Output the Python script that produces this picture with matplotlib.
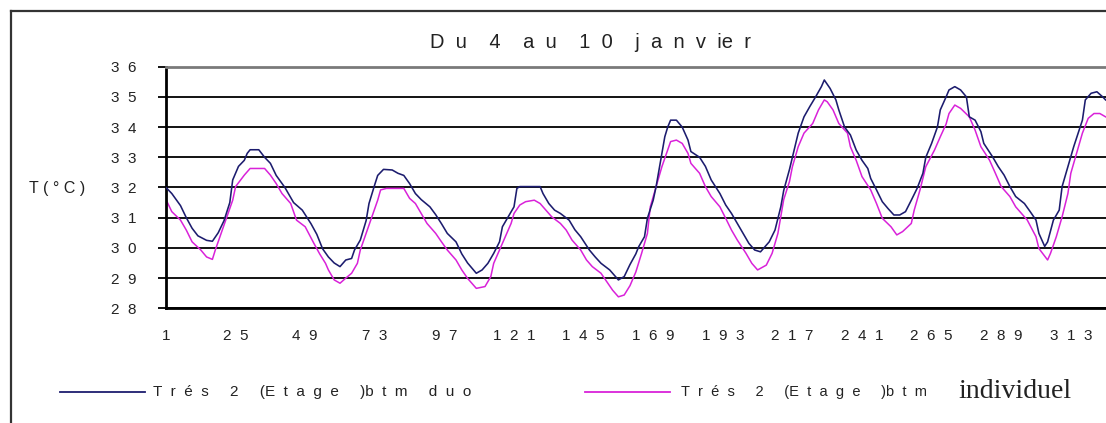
import matplotlib
matplotlib.use("Agg")
import matplotlib.pyplot as plt
from matplotlib.lines import Line2D

# Relevés toutes les demi-heures, du 4 au 10 janvier
duo_x = [1, 3, 6, 8, 10, 12, 15, 17, 19, 21, 23, 24, 26, 28, 29, 30, 33, 35, 37, 39,
         42, 45, 48, 51, 53, 55, 57, 59, 61, 63, 65, 66, 68, 70, 71, 73, 74, 76, 79, 81,
         83, 85, 87, 89, 92, 94, 96, 98, 101, 103, 105, 108, 110, 112, 114, 116, 117, 119, 121, 122,
         123, 130, 131, 133, 135, 137, 140, 142, 144, 147, 149, 151, 154, 156, 157, 159, 161, 163, 164, 166,
         167, 169, 170, 171, 172, 173, 174, 175, 177, 179, 181, 182, 185, 187, 189, 192, 194, 196, 198, 200,
         202, 204, 206, 209, 211, 213, 214, 216, 217, 219, 221, 223, 225, 227, 228, 230, 232, 233, 235, 237,
         239, 241, 243, 244, 246, 248, 250, 252, 254, 256, 258, 260, 262, 263, 265, 267, 268, 270, 271, 273,
         275, 277, 278, 280, 282, 283, 286, 288, 290, 292, 294, 297, 299, 301, 302, 304, 305, 307, 309, 310,
         312, 314, 317, 318, 320, 322, 324, 325]
duo_t = [32.0, 31.8, 31.4, 31.0, 30.65, 30.4, 30.25, 30.22, 30.5, 30.9, 31.5, 32.25, 32.7, 32.9, 33.13, 33.25, 33.25, 33.0, 32.8, 32.4,
         32.0, 31.5, 31.25, 30.8, 30.45, 29.97, 29.7, 29.5, 29.38, 29.6, 29.65, 29.93, 30.26, 30.9, 31.47, 32.1, 32.4, 32.6, 32.58, 32.47,
         32.4, 32.13, 31.8, 31.6, 31.36, 31.1, 30.8, 30.48, 30.2, 29.8, 29.5, 29.16, 29.27, 29.49, 29.82, 30.2, 30.7, 31.03, 31.36, 31.97,
         32.03, 32.03, 31.8, 31.47, 31.25, 31.14, 30.92, 30.6, 30.37, 29.93, 29.7, 29.49, 29.27, 29.05, 28.94, 29.05, 29.45, 29.8, 30.04, 30.37,
         30.98, 31.58, 32.03, 32.58, 33.13, 33.68, 34.0, 34.23, 34.23, 34.0, 33.57, 33.19, 33.0, 32.7, 32.25, 31.8, 31.42, 31.14, 30.81, 30.48,
         30.15, 29.93, 29.87, 30.2, 30.59, 31.36, 31.9, 32.6, 33.0, 33.8, 34.34, 34.68, 35.0, 35.34, 35.56, 35.28, 34.9, 34.57, 34.0, 33.74,
         33.24, 32.9, 32.63, 32.3, 31.92, 31.53, 31.3, 31.09, 31.09, 31.2, 31.58, 31.97, 32.47, 33.0, 33.46, 34.0, 34.57, 35.0, 35.23, 35.34,
         35.23, 35.0, 34.34, 34.23, 33.85, 33.46, 33.02, 32.69, 32.41, 32.03, 31.7, 31.47, 31.2, 30.92, 30.48, 30.05, 30.2, 30.92, 31.25, 32.03,
         32.69, 33.35, 34.23, 34.9, 35.12, 35.17, 35.0, 34.9]

indiv_x = [1, 3, 6, 8, 10, 13, 15, 17, 18, 20, 22, 24, 25, 28, 30, 35, 37, 39, 41, 44,
           46, 49, 52, 54, 56, 57, 59, 61, 63, 65, 67, 68, 70, 72, 74, 75, 77, 83, 85, 87,
           89, 91, 94, 96, 98, 101, 103, 105, 108, 111, 113, 114, 116, 118, 120, 121, 123, 125, 128, 130,
           132, 134, 137, 139, 141, 144, 146, 148, 151, 153, 155, 157, 159, 161, 163, 165, 167, 168, 170, 172,
           174, 175, 177, 179, 181, 182, 185, 187, 189, 192, 194, 196, 198, 201, 203, 205, 208, 210, 212, 214,
           216, 217, 219, 221, 224, 226, 228, 229, 231, 233, 236, 237, 239, 241, 244, 246, 248, 251, 253, 255,
           258, 259, 261, 263, 266, 268, 270, 271, 273, 275, 278, 280, 282, 285, 287, 289, 292, 294, 296, 298,
           301, 302, 305, 306, 308, 310, 312, 313, 315, 317, 319, 321, 323, 325]
indiv_t = [31.6, 31.2, 30.92, 30.59, 30.2, 29.93, 29.7, 29.62, 29.93, 30.48, 31.03, 31.58, 32.03, 32.41, 32.63, 32.63, 32.41, 32.13, 31.8, 31.47,
           30.92, 30.7, 30.15, 29.8, 29.49, 29.27, 28.94, 28.83, 29.0, 29.16, 29.49, 29.93, 30.48, 31.03, 31.58, 31.92, 31.97, 31.97, 31.64, 31.47,
           31.14, 30.81, 30.48, 30.2, 29.93, 29.6, 29.27, 28.99, 28.66, 28.72, 29.05, 29.49, 29.93, 30.37, 30.81, 31.14, 31.42, 31.53, 31.58, 31.47,
           31.25, 31.03, 30.81, 30.59, 30.26, 29.93, 29.6, 29.38, 29.16, 28.88, 28.6, 28.38, 28.44, 28.75, 29.2, 29.82, 30.48, 31.36, 32.03, 32.69,
           33.24, 33.52, 33.57, 33.46, 33.13, 32.8, 32.47, 32.03, 31.7, 31.36, 30.98, 30.59, 30.26, 29.82, 29.49, 29.27, 29.43, 29.82, 30.48, 31.6,
           32.2, 32.69, 33.35, 33.8, 34.12, 34.57, 34.9, 34.84, 34.57, 34.12, 33.8, 33.35, 32.9, 32.36, 31.92, 31.47, 30.98, 30.7, 30.43, 30.54,
           30.81, 31.25, 31.92, 32.69, 33.24, 33.68, 34.1, 34.45, 34.73, 34.62, 34.34, 33.9, 33.35, 32.9, 32.47, 32.03, 31.7, 31.36, 31.14, 30.92,
           30.37, 29.98, 29.6, 29.82, 30.37, 31.03, 31.8, 32.47, 33.13, 33.8, 34.29, 34.45, 34.45, 34.34]

x_labels = list(range(1, 337, 24))
y_labels = list(range(28, 37))

BLUE = "#1c1c6e"
PINK = "#d922d9"
SANS = "Liberation Sans"
INK = "#222222"

W, H = 1106, 423
fig = plt.figure(figsize=(W / 100, H / 100), dpi=100)
fig.patch.set_facecolor("white")


def spaced(s):
    # libellés façon Excel, caractères écartés
    return "  ".join(str(s))


# zone de tracé (déborde à droite comme la feuille d'origine)
left, right, top, bottom = 166, 1137.5, 66.7, 308.3
ax = fig.add_axes([left / W, 1 - bottom / H, (right - left) / W, (bottom - top) / H])
ax.plot(duo_x, duo_t, color=BLUE, lw=1.15, zorder=3)
ax.plot(indiv_x, indiv_t, color=PINK, lw=1.1, zorder=2)

ax.set_xlim(1, 336)
ax.set_ylim(28, 36)

ax.set_yticks(y_labels)
ax.set_yticklabels([spaced(v) for v in y_labels], fontsize=11, family=SANS, color=INK)
ax.tick_params(axis="y", direction="out", length=6, width=1.3, pad=15)
ax.yaxis.grid(True, color="black", lw=1.3)
ax.set_axisbelow(True)

ax.set_xticks(x_labels)
ax.set_xticklabels([spaced(v) for v in x_labels], fontsize=11, family=SANS, color=INK)
ax.set_xticks([49, 97, 145, 193, 241, 289], minor=True)
ax.tick_params(axis="x", which="major", length=0, pad=15)
ax.tick_params(axis="x", which="minor", direction="out", length=5, width=1.3)

for side in ["left", "bottom"]:
    ax.spines[side].set_linewidth(2)
    ax.spines[side].set_color("black")
ax.spines["top"].set_color("#7a7a7a")
ax.spines["top"].set_linewidth(2)
ax.spines["right"].set_visible(False)

# cadre extérieur
fig.add_artist(Line2D([11 / W, 11 / W], [0, 1 - 11 / H], color="#333333", lw=1.6))
fig.add_artist(Line2D([11 / W, 1], [1 - 11 / H, 1 - 11 / H], color="#333333", lw=1.6))

fig.text(591 / W, 1 - 43 / H, "D  u    4    a  u    1  0    j  a  n  v  ie  r", ha="center", va="center",
         fontsize=14.5, family=SANS, color=INK)
fig.text(57 / W, 1 - 188 / H, "T ( ° C )", ha="center", va="center",
         fontsize=11.5, family=SANS, color=INK)

# légende
ly = 1 - 392 / H
fig.add_artist(Line2D([60 / W, 145 / W], [ly, ly], color=BLUE, lw=1.3))
fig.text(153 / W, ly, "T  r  é  s     2     (E  t  a  g  e     )b  t  m     d  u  o", ha="left", va="center",
         fontsize=11, family=SANS, color=INK)
fig.add_artist(Line2D([585 / W, 670 / W], [ly, ly], color=PINK, lw=1.3))
fig.text(681 / W, ly, "T  r  é  s     2     (E  t  a  g  e     )b  t  m", ha="left", va="center",
         fontsize=10.5, family=SANS, color=INK)
fig.text(958 / W, ly + 0.002, "individuel", ha="left", va="center",
         fontsize=20, family="Liberation Serif", color=INK)

fig.savefig("out.png", dpi=100)
